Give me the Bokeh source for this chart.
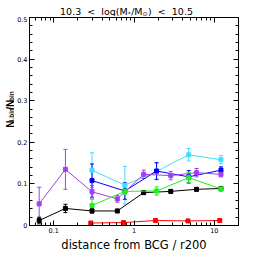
import math
from bokeh.plotting import figure
from bokeh.layouts import column, row
from bokeh.models import (Label, Whisker, TeeHead, ColumnDataSource, LinearAxis, LogAxis,
                          LogTicker, SingleIntervalTicker, CustomJSTickFormatter, Range1d)
from bokeh.embed import file_html
from bokeh.resources import INLINE

# ---------------- data ----------------
purple_x = [0.066, 0.14, 0.30, 0.62, 1.32, 2.87, 6.0, 12.1]
purple_y = [0.052, 0.135, 0.081, 0.064, 0.123, 0.120, 0.127, 0.123]
purple_e = [0.040, 0.048, 0.015, 0.008, 0.010, 0.010, 0.010, 0.006]

black_x = [0.066, 0.14, 0.30, 0.62, 1.32, 2.87, 6.0, 12.1]
black_y = [0.012, 0.041, 0.035, 0.035, 0.079, 0.082, 0.087, 0.089]
black_e = [0.008, 0.010, 0.005, 0.004, 0.004, 0.004, 0.004, 0.004]

cyan_x = [0.30, 0.77, 1.91, 4.8, 12.1]
cyan_y = [0.133, 0.097, 0.130, 0.170, 0.158]
cyan_e = [0.042, 0.045, 0.020, 0.015, 0.010]

blue_x = [0.30, 0.77, 1.91, 4.8, 12.1]
blue_y = [0.108, 0.083, 0.131, 0.117, 0.133]
blue_e = [0.040, 0.020, 0.020, 0.015, 0.008]

green_x = [0.30, 0.77, 1.91, 4.8, 12.1]
green_y = [0.048, 0.082, 0.083, 0.115, 0.088]
green_e = [0.015, 0.008, 0.010, 0.012, 0.006]

red_x = [0.29, 0.74, 1.85, 4.7, 11.7]
red_y = [0.006, 0.007, 0.012, 0.011, 0.012]
red_e = [0.002, 0.002, 0.002, 0.002, 0.002]

title_parts = ["10.3\u00a0\u00a0<\u00a0\u00a0log(M", "*", "/M", "\u2299", ")\u00a0\u00a0<\u00a0\u00a010.5"]
ylabel_parts = ["N", "i,bin", "/N", "bin"]
xlabel = "distance from BCG / r200"

# ---------------- layout sizes ----------------
TOTAL_W = 242
TOTAL_H = 254
TITLE_H = 16
YLAB_W = 14
MW = TOTAL_W - YLAB_W        # main figure width
MH = TOTAL_H - TITLE_H       # main figure height
BL, BR, BT, BB = 12, 4, 1, 27  # main figure borders

XMIN, XMAX, YMIN, YMAX = 0.05, 20.0, 0.0, 0.5

p = figure(width=MW, height=MH, x_axis_type="log",
           x_range=Range1d(XMIN, XMAX), y_range=Range1d(YMIN, YMAX),
           output_backend="svg", toolbar_location=None,
           min_border_left=BL, min_border_right=BR,
           min_border_top=BT, min_border_bottom=BB)
p.grid.visible = False
p.outline_line_color = "black"
p.outline_line_width = 1
p.background_fill_color = "white"
p.border_fill_color = "white"

def style_axis(ax, show_labels):
    ax.major_tick_in = 5
    ax.major_tick_out = 0
    ax.minor_tick_in = 3
    ax.minor_tick_out = 0
    ax.major_tick_line_color = "black"
    ax.minor_tick_line_color = "black"
    ax.axis_line_color = "black"
    ax.major_label_text_font = "DejaVu Sans"
    ax.major_label_text_color = "black"
    if show_labels:
        ax.major_label_text_font_size = "6.5px"
        ax.major_label_standoff = 2
    else:
        ax.major_label_text_font_size = "0px"
        ax.major_label_standoff = 0

p.xaxis.ticker = LogTicker(num_minor_ticks=10)
p.xaxis.formatter = CustomJSTickFormatter(code="return tick.toString();")
p.yaxis.ticker = SingleIntervalTicker(interval=0.1, num_minor_ticks=5)
p.yaxis.formatter = CustomJSTickFormatter(code="return Math.abs(tick) < 1e-9 ? '0' : tick.toFixed(1);")
style_axis(p.xaxis[0], True)
style_axis(p.yaxis[0], True)
p.yaxis.major_label_standoff = 2
p.xaxis.axis_label = xlabel
p.xaxis.axis_label_text_font = "DejaVu Sans"
p.xaxis.axis_label_text_font_size = "11.5px"
p.xaxis.axis_label_text_font_style = "normal"
p.xaxis.axis_label_text_color = "black"
p.xaxis.axis_label_standoff = 2

top = LogAxis(ticker=LogTicker(num_minor_ticks=10),
              formatter=CustomJSTickFormatter(code="return '';"))
right = LinearAxis(ticker=SingleIntervalTicker(interval=0.1, num_minor_ticks=5),
                   formatter=CustomJSTickFormatter(code="return '';"))
style_axis(top, False)
style_axis(right, False)
p.add_layout(top, "above")
p.add_layout(right, "right")

# ---------------- series ----------------
series = [
    (cyan_x, cyan_y, cyan_e, "#3fe0ff"),
    (blue_x, blue_y, blue_e, "#0000ff"),
    (purple_x, purple_y, purple_e, "#a040f0"),
    (black_x, black_y, black_e, "black"),
    (green_x, green_y, green_e, "#22ee22"),
    (red_x, red_y, red_e, "#ff0000"),
]
for xs, ys, es, c in series:
    src = ColumnDataSource(dict(x=xs, y=ys,
                                lo=[y - e for y, e in zip(ys, es)],
                                hi=[y + e for y, e in zip(ys, es)]))
    p.add_layout(Whisker(base="x", upper="hi", lower="lo", source=src,
                         line_color=c, line_width=1,
                         upper_head=TeeHead(size=4, line_color=c, line_width=1),
                         lower_head=TeeHead(size=4, line_color=c, line_width=1)))
    p.line("x", "y", source=src, line_color=c, line_width=1)
    p.scatter("x", "y", source=src, marker="square", size=4,
              fill_color=c, line_color=c)

# ---------------- helper text canvases ----------------
def text_canvas(w, h):
    f = figure(width=w, height=h, x_range=Range1d(0, w), y_range=Range1d(0, h),
               output_backend="svg", toolbar_location=None,
               x_axis_location=None, y_axis_location=None,
               min_border=0, min_border_left=0, min_border_right=0,
               min_border_top=0, min_border_bottom=0)
    f.grid.visible = False
    f.outline_line_color = None
    f.background_fill_color = "white"
    f.border_fill_color = "white"
    return f

# title canvas
tfig = text_canvas(TOTAL_W, TITLE_H)
big, small = 9.5, 6.0
title_w = [7.114 * big, 0.5 * small, 1.2 * big, 0.838 * small, 4.726 * big]
title_sizes = [big, small, big, small, big]
title_base = [5.0, 3.0, 5.0, 3.0, 5.0]
frame_cx = YLAB_W + BL + (MW - BL - BR) / 2
x0 = frame_cx - 6 - (sum(title_w) + 1.0) / 2
for txt, w, fs, yb in zip(title_parts, title_w, title_sizes, title_base):
    tfig.add_layout(Label(x=x0, y=yb, text=txt,
                          text_font="DejaVu Sans", text_font_size=f"{fs}px",
                          text_align="left", text_baseline="alphabetic", text_color="black"))
    x0 += w + (0.5 if fs == small else 0)

# y-label canvas (rotated text)
yfig = text_canvas(YLAB_W, MH)
ybig, ysmall = 10.0, 6.5
yl_w = [0.722 * ybig, 2.056 * ysmall, 1.0 * ybig, 1.5 * ysmall]
yl_sizes = [ybig, ysmall, ybig, ysmall]
yl_base = [9.5, 11.3, 9.5, 11.3]
frame_cy = BB + (MH - BT - BB) / 2
y0 = frame_cy - sum(yl_w) / 2
for txt, w, fs, xb in zip(ylabel_parts, yl_w, yl_sizes, yl_base):
    yfig.add_layout(Label(x=xb, y=y0, text=txt, angle=math.pi / 2,
                          text_font="Liberation Sans", text_font_size=f"{fs}px",
                          text_font_style="bold",
                          text_align="left", text_baseline="alphabetic", text_color="black"))
    y0 += w

layout = column(tfig, row(yfig, p, spacing=0), spacing=0)
open("out.html", "w").write(file_html(layout, INLINE))
